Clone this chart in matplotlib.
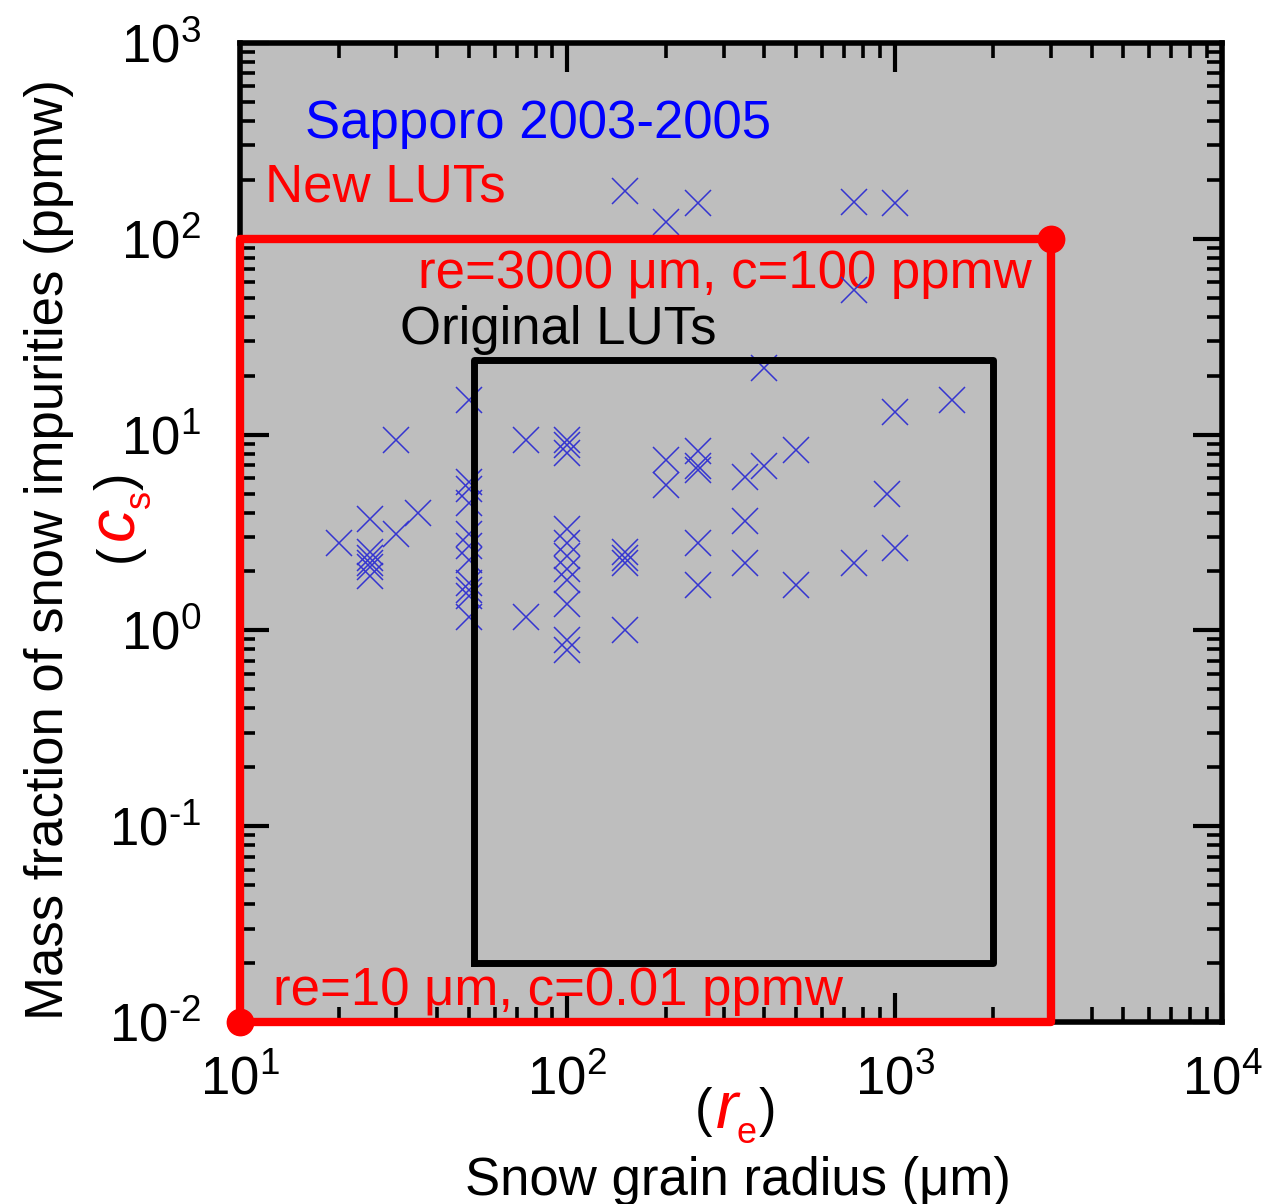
#!/usr/bin/python3
# Snow impurity vs grain radius with LUT ranges

import matplotlib.pyplot as plt
from matplotlib.ticker import FuncFormatter
import numpy as np

plt.rcParams['font.family'] = ['Liberation Sans', 'DejaVu Sans']
plt.rcParams['mathtext.fontset'] = 'custom'
plt.rcParams['mathtext.rm'] = 'Liberation Sans'
plt.rcParams['mathtext.it'] = 'Liberation Sans:italic'
plt.rcParams['axes.unicode_minus'] = False

# Sapporo 2003-2005 observations: grain radius (um) and impurity (ppmw)
radius = [20, 25, 25, 25, 25, 25, 25, 30, 30, 35,
          50, 50, 50, 50, 50, 50, 50, 50, 50, 50, 50,
          75, 75,
          100, 100, 100, 100, 100, 100, 100, 100, 100, 100, 100,
          150, 150, 150, 150, 150,
          200, 200, 200,
          250, 250, 250, 250, 250, 250,
          350, 350, 350,
          400, 400,
          500, 500,
          750, 750, 750,
          950,
          1000, 1000, 1000,
          1500]
conc = [2.8, 3.7, 2.5, 2.35, 2.2, 2.1, 1.9, 9.4, 3.1, 4.0,
        15, 5.75, 5.3, 4.5, 3.1, 2.7, 2.3, 1.75, 1.6, 1.5, 1.17,
        9.4, 1.17,
        9.4, 8.8, 8.1, 3.3, 2.8, 2.4, 2.05, 1.8, 1.37, 0.89, 0.79,
        175, 2.5, 2.35, 2.2, 1.0,
        122, 7.4, 5.5,
        153, 8.2, 6.9, 6.6, 2.8, 1.7,
        6.1, 3.6, 2.2,
        22, 6.9,
        8.3, 1.7,
        155, 55, 2.2,
        5.0,
        153, 13, 2.65,
        15]

# look-up table ranges
new_lut_r = [10, 3000]
new_lut_c = [0.01, 100]
orig_lut_r = [52, 2000]
orig_lut_c = [0.02, 24]

fig = plt.figure(figsize=(12.77, 12.04), dpi=100)
ax = fig.add_axes([240/1277, 1 - 1022/1204, 982/1277, 979/1204])
ax.set_facecolor('#bebebe')

ax.plot(radius, conc, linestyle='none', marker='x', ms=19, mew=1.1,
        color='#3535d0', zorder=2)

ax.plot([orig_lut_r[0], orig_lut_r[1], orig_lut_r[1], orig_lut_r[0], orig_lut_r[0]],
        [orig_lut_c[0], orig_lut_c[0], orig_lut_c[1], orig_lut_c[1], orig_lut_c[0]],
        color='black', lw=5, zorder=3)
ax.plot([new_lut_r[0], new_lut_r[1], new_lut_r[1], new_lut_r[0], new_lut_r[0]],
        [new_lut_c[0], new_lut_c[0], new_lut_c[1], new_lut_c[1], new_lut_c[0]],
        color='red', lw=6, zorder=4, clip_on=False)
ax.plot(new_lut_r, new_lut_c, linestyle='none', marker='o', ms=19,
        color='red', zorder=5, clip_on=False)

ax.set_xscale('log')
ax.set_yscale('log')
ax.set_xlim(10, 1e4)
ax.set_ylim(1e-2, 1e3)


def pow10(v, pos):
    e = int(round(np.log10(v)))
    if e < 0:
        return r'$10^{\text{-}%d}$' % (-e)
    return r'$10^{%d}$' % e


ax.xaxis.set_major_formatter(FuncFormatter(pow10))
ax.yaxis.set_major_formatter(FuncFormatter(pow10))

for s in ax.spines.values():
    s.set_linewidth(4)
ax.tick_params(which='both', direction='in', top=True, right=True,
               labelsize=38)
ax.tick_params(which='major', length=21, width=3)
ax.tick_params(which='minor', length=11, width=2.6)
ax.tick_params(axis='x', pad=24)
ax.tick_params(axis='y', pad=28)

fs = 38
ax.text((305-240)/982, (1022-138)/979, 'Sapporo 2003-2005', color='#0000ff',
        fontsize=fs, transform=ax.transAxes, va='baseline')
ax.text((265-240)/982, (1022-202)/979, 'New LUTs', color='red',
        fontsize=fs, transform=ax.transAxes, va='baseline')
ax.text((418-240)/982, (1022-288)/979, 're=3000 \u03bcm, c=100 ppmw', color='red',
        fontsize=fs, transform=ax.transAxes, va='baseline', zorder=1)
ax.text((400-240)/982, (1022-344)/979, 'Original LUTs', color='black',
        fontsize=fs, transform=ax.transAxes, va='baseline')
ax.text((273-240)/982, (1022-1005)/979, 're=10 \u03bcm, c=0.01 ppmw', color='red',
        fontsize=fs, transform=ax.transAxes, va='baseline')

# axis labels
fig.text(738/1277, 1 - 1195/1204, 'Snow grain radius (\u03bcm)', fontsize=fs,
         ha='center', va='baseline')
fig.text(63/1277, 1 - 550/1204, 'Mass fraction of snow impurities (ppmw)',
         fontsize=fs, ha='center', va='baseline', rotation=90,
         rotation_mode='anchor')

# (r_e) under the x axis
fig.text(703/1277, 1 - 1112/1204, '(', fontsize=fs, ha='center', va='center')
fig.text(767/1277, 1 - 1112/1204, ')', fontsize=fs, ha='center', va='center')
fig.text(727/1277, 1 - 1128/1204, 'r', fontsize=48, style='italic',
         color='red', ha='center', va='baseline')
fig.text(746/1277, 1 - 1143/1204, 'e', fontsize=26, color='red',
         ha='center', va='baseline')

# (c_s) beside the y axis
fig.text(119/1277, 1 - 553/1204, '(', fontsize=fs, ha='center', va='center',
         rotation=90, rotation_mode='anchor')
fig.text(119/1277, 1 - 481/1204, ')', fontsize=fs, ha='center', va='center',
         rotation=90, rotation_mode='anchor')
fig.text(133/1277, 1 - 523/1204, 'c', fontsize=48, style='italic', color='red',
         ha='center', va='baseline', rotation=90, rotation_mode='anchor')
fig.text(150/1277, 1 - 499/1204, 's', fontsize=26, color='red',
         ha='center', va='baseline', rotation=90, rotation_mode='anchor')

fig.savefig('out.png', dpi=100)
